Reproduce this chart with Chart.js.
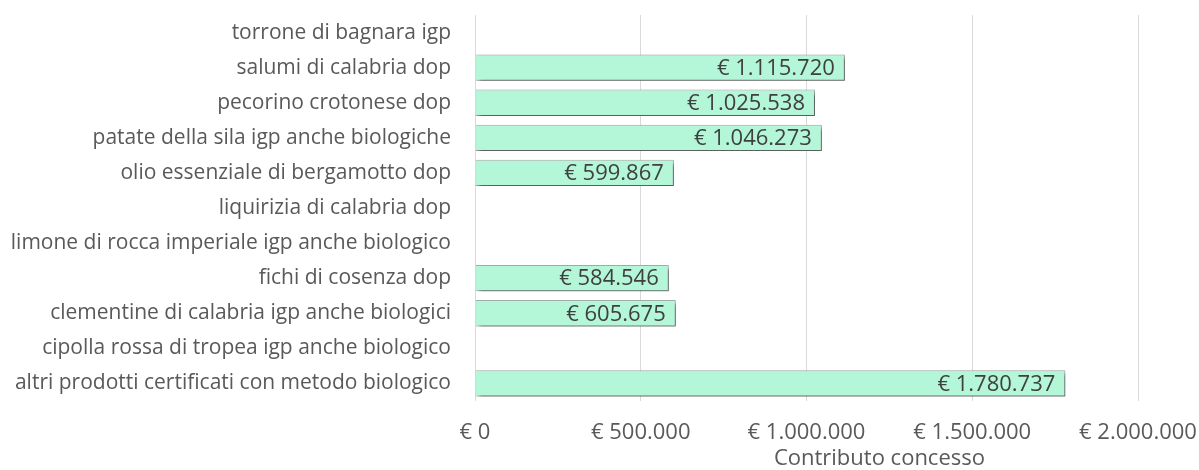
<!DOCTYPE html>
<html>
<head>
<meta charset="utf-8">
<script src="https://cdn.jsdelivr.net/npm/chart.js@4"></script>
<style>
  html, body { margin: 0; padding: 0; background: #fff; }
  #wrap { width: 1199px; height: 470px; position: relative; }
</style>
</head>
<body>
<div id="wrap"><canvas id="contribChart"></canvas></div>
<script>
const categories = [
    'torrone di bagnara igp',
    'salumi di calabria dop',
    'pecorino crotonese dop',
    'patate della sila igp anche biologiche',
    'olio essenziale di bergamotto dop',
    'liquirizia di calabria dop',
    'limone di rocca imperiale igp anche biologico',
    'fichi di cosenza dop',
    'clementine di calabria igp anche biologici',
    'cipolla rossa di tropea igp anche biologico',
    'altri prodotti certificati con metodo biologico'
];
const contributo = [null, 1115720, 1025538, 1046273, 599867, null, null, 584546, 605675, null, 1780737];
const xTicks = [0, 500000, 1000000, 1500000, 2000000];
const axisTitle = 'Contributo concesso';

const FONT = "'Open Sans', sans-serif";
const euro = v => '€ ' + Math.round(v).toString().replace(/\B(?=(\d{3})+(?!\d))/g, '.');

const barShadow = {
    id: 'barShadow',
    beforeDatasetsDraw(chart) {
        const ctx = chart.ctx;
        ctx.save();
        ctx.shadowColor = 'rgba(0,0,0,0.5)';
        ctx.shadowBlur = 4;
        ctx.shadowOffsetX = 3;
        ctx.shadowOffsetY = 3;
    },
    afterDatasetsDraw(chart) {
        chart.ctx.restore();
    }
};

const valueLabels = {
    id: 'valueLabels',
    afterDraw(chart) {
        const ctx = chart.ctx;
        const meta = chart.getDatasetMeta(0);
        ctx.save();
        ctx.font = '22px ' + FONT;
        ctx.fillStyle = '#404040';
        ctx.textAlign = 'right';
        ctx.textBaseline = 'middle';
        meta.data.forEach((bar, i) => {
            const v = contributo[i];
            if (v == null) return;
            ctx.fillText(euro(v), bar.x - 10, bar.y + 1);
        });
        // axis title sits right of the plot centre in the original
        const x = chart.scales.x;
        ctx.textAlign = 'center';
        ctx.fillStyle = '#595959';
        ctx.fillText(axisTitle, x.getPixelForValue(1220000), 459);
        ctx.restore();
    }
};

new Chart(document.getElementById('contribChart').getContext('2d'), {
    type: 'bar',
    data: {
        labels: categories,
        datasets: [{
            data: contributo,
            backgroundColor: '#b4f6d8',
            borderColor: '#a3aea9',
            borderWidth: 1,
            barPercentage: 0.75,
            categoryPercentage: 1
        }]
    },
    options: {
        indexAxis: 'y',
        responsive: true,
        maintainAspectRatio: false,
        animation: false,
        layout: { padding: { top: 15, right: 61, left: 0, bottom: 0 } },
        plugins: { legend: { display: false }, tooltip: { enabled: false } },
        scales: {
            x: {
                min: 0, max: 2000000,
                afterBuildTicks: s => { s.ticks = xTicks.map(v => ({ value: v })); },
                afterFit: s => { s.height = 69; s.paddingLeft = 0; s.paddingRight = 0; },
                grid: { color: '#d9d9d9', drawTicks: false },
                border: { display: false },
                ticks: { color: '#595959', font: { family: FONT, size: 22, lineHeight: 1 }, padding: 21, callback: v => euro(v) }
            },
            y: {
                afterFit: s => { s.width = 475; s.paddingTop = 0; s.paddingBottom = 0; },
                grid: { display: false, drawTicks: false },
                border: { display: false },
                ticks: { color: '#595959', font: { family: FONT, size: 21 }, padding: 24 }
            }
        }
    },
    plugins: [barShadow, valueLabels]
});
</script>
</body>
</html>
